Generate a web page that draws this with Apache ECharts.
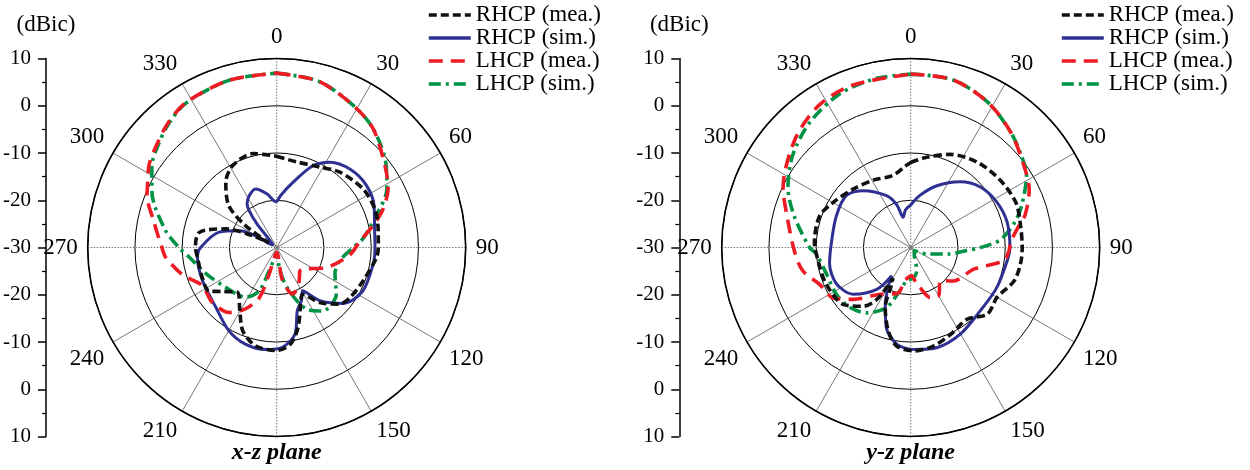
<!DOCTYPE html>
<html><head><meta charset="utf-8">
<script src="https://cdn.jsdelivr.net/npm/echarts@6/dist/echarts.min.js"></script>
<style>html,body{margin:0;padding:0;background:#fff}#c{width:1250px;height:470px}</style>
</head><body><div id="c"></div>
<script>
// ---- data: [angle (deg), gain (dBic)] ----
const seriesNames = ['RHCP (mea.)', 'RHCP (sim.)', 'LHCP (mea.)', 'LHCP (sim.)'];
const planeTitles = ['x-z plane', 'y-z plane'];

const xzRhcpMea = [[0,-10.7],[13,-11.4],[28,-10.7],[40,-9.2],[56,-7.9],[69,-7.7],[80,-8.2],[90,-8.5],[96,-8.8],[111,-10.4],[124,-11.2],[132,-12.1],[142,-15.2],[151,-18.7],[157,-17],[165,-12.5],[172,-9.3],[180,-8.2],[192,-8.7],[202,-10.9],[210,-14.4],[221,-17.4],[231,-15.2],[237,-13],[248,-13],[263,-13.1],[270,-12.8],[281,-13.3],[290,-18.5],[296,-24.3],[301,-28],[305,-22],[311,-16.6],[322,-12.5],[332,-10.3],[346,-9.5],[357,-10.5],[360,-10.7]];
const xzRhcpSim = [[0,-20.4],[5,-18.8],[14,-15.8],[24,-11],[32,-8.7],[43,-7.3],[55,-6.9],[67,-7.6],[79,-8.9],[90,-9.2],[100,-9.3],[117,-9.6],[130,-11.6],[141,-15.5],[149,-19.3],[155,-17.6],[162,-15.9],[168,-11.3],[177,-8.8],[186,-8.3],[198,-8.5],[210,-9.7],[225,-11.9],[246,-12.8],[263,-13.1],[270,-13.9],[285,-17.4],[294,-21.3],[300,-25.7],[306,-29],[312,-29],[318,-27],[320,-23.5],[323,-20.5],[326,-18.8],[332,-17.6],[340,-16.8],[350,-18.5],[356,-20],[360,-20.4]];
const xzLhcpMea = [[0,6.9],[14,6.3],[28,4.2],[39,2.4],[53,-1.3],[62,-3.3],[70,-6],[76,-8.6],[86,-12.4],[96,-14.5],[112,-18.7],[128,-22.6],[136,-23],[143,-22],[152,-20.5],[161,-19.6],[170,-23],[178,-29],[190,-28.6],[196,-24],[199,-18.8],[207,-15.4],[216,-13],[230,-12.1],[243,-12.3],[254,-9.2],[265,-6.4],[270,-5.7],[282,-3.4],[292,-0.4],[296,0.4],[303,2.2],[311,3.5],[319,5],[328,6.2],[344,6.8],[360,6.9]];
const xzLhcpSim = [[0,6.9],[14,6.3],[28,4.2],[39,2.4],[53,-1],[62,-3.6],[72,-7.8],[84,-11.6],[90,-13.8],[102,-16.4],[114,-16.5],[128,-14],[144,-13.4],[154,-15.5],[164,-20.5],[172,-25],[180,-29],[190,-28],[198,-24.9],[202,-20.1],[212,-17.6],[232,-16.3],[250,-14],[264,-11.3],[270,-9.3],[279,-6.1],[294,-1.1],[303,1.5],[311,3.2],[319,4.8],[328,6.1],[344,6.8],[360,6.9]];

const yzRhcpMea = [[0,-12],[10,-10.6],[23,-8.6],[38,-7.1],[53,-6.3],[67,-5.8],[79,-6.3],[90,-6.4],[98,-6.5],[108,-7],[120,-8.9],[131,-8.5],[142,-10.7],[155,-9.8],[167,-8.6],[178,-8.1],[188,-8.9],[195,-11.7],[203,-16.2],[207,-21],[210,-22.5],[213,-17],[219,-14],[230,-11.3],[247,-10.5],[262,-10.2],[273,-9.6],[289,-9.6],[300,-11],[315,-12.6],[331,-13.7],[346,-14.3],[357,-12.6],[360,-12]];
const yzRhcpSim = [[0,-21],[10,-18.8],[23,-15.8],[37,-12.6],[49,-10.5],[62,-9.4],[75,-8.9],[90,-9],[98,-9.4],[115,-9.9],[132,-10.1],[150,-8.9],[165,-8.1],[178,-8.4],[188,-9.3],[197,-12.3],[204,-16.8],[210,-20.5],[214,-22.8],[219,-18.6],[231,-14.3],[244,-12.5],[259,-12.5],[274,-13.2],[293,-12.9],[309,-12.5],[320,-14.3],[335,-17.9],[342,-20.5],[346,-23.4],[352,-22],[360,-21]];
const yzLhcpMea = [[0,6.7],[14,6.6],[28,4.8],[41,2.3],[54,-0.4],[64,-2.1],[74,-4.8],[80,-7.1],[87,-8.8],[92,-9.2],[98,-10.1],[109,-15.9],[128,-18.5],[138,-20.6],[150,-18.2],[159,-18.7],[167,-21.3],[171,-22.2],[178,-24],[190,-22.9],[196,-19.9],[213,-18.2],[228,-13.6],[237,-10.4],[248,-9.2],[258,-6.6],[268,-5.4],[286,-2.6],[295,-0.2],[313,3.5],[327,5.8],[340,6.5],[360,6.7]];
const yzLhcpSim = [[0,6.7],[14,6.6],[28,4.8],[41,2.3],[50,0.5],[58,-1.1],[69,-4.8],[76,-7.2],[85,-10.9],[90,-15.2],[93,-18.1],[100,-22],[112,-26.3],[130,-29],[150,-28.5],[165,-25],[175,-23.5],[187,-22.9],[194,-20.6],[202,-16.3],[214,-13.3],[226,-11.9],[238,-11.4],[253,-11.3],[266,-10],[270,-8.6],[285,-4.5],[296,-1.1],[308,1.7],[321,4],[335,5.8],[348,6.5],[360,6.7]];

const planeData = [
  [xzRhcpMea, xzRhcpSim, xzLhcpMea, xzLhcpSim],
  [yzRhcpMea, yzRhcpSim, yzLhcpMea, yzLhcpSim]
];

// ---- styles ----
const FONT = '"Liberation Serif","Times New Roman",serif';
const R = 189, CY = 247.5, CX = [276.7, 910.7], AXX = [44, 679.3], LEGX = [427, 1060];
const styles = [
  {color: '#111111', width: 3.6, type: [8, 4]},
  {color: '#2E3192', width: 3, type: 'solid'},
  {color: '#ED1C24', width: 3.6, type: [14, 8]},
  {color: '#009245', width: 3.6, type: [12, 5, 3, 5]}
];
const drawOrder = [3, 1, 2, 0];

const polar = [], angleAxis = [], radiusAxis = [], grid = [], xAxis = [], yAxis = [], legend = [], series = [], graphic = [];
for (let p = 0; p < 2; p++) {
  polar.push({center: [CX[p], CY], radius: R});
  angleAxis.push({
    polarIndex: p, type: 'value', min: 0, max: 360, interval: 30, startAngle: 90, clockwise: true,
    axisLine: {lineStyle: {color: '#000', width: 1.6}},
    axisTick: {show: false},
    axisLabel: {margin: 10, fontSize: 23, fontFamily: FONT, color: '#000',
      formatter: v => (v === 180 || v === 360) ? '' : String(v)},
    splitLine: {show: true, lineStyle: {color: ['rgba(0,0,0,0)', '#555', '#555'], width: 0.8}}
  });
  radiusAxis.push({
    polarIndex: p, type: 'value', min: -30, max: 10, interval: 10,
    axisLine: {show: false}, axisTick: {show: false}, axisLabel: {show: false},
    splitLine: {show: true, lineStyle: {color: '#000', width: 1}}
  });
  grid.push({left: AXX[p], top: 58.5, width: 10, height: 378});
  xAxis.push({gridIndex: p, type: 'value', show: false});
  yAxis.push({
    gridIndex: p, type: 'value', min: -40, max: 40, interval: 10, position: 'left',
    axisLine: {show: true, lineStyle: {color: '#000', width: 1.5}},
    axisTick: {show: true, length: 8, lineStyle: {color: '#000', width: 1.5}},
    minorTick: {show: true, splitNumber: 2, length: 4, lineStyle: {color: '#000', width: 1.2}},
    splitLine: {show: false},
    axisLabel: {margin: 15, fontSize: 21, fontFamily: FONT, color: '#000', formatter: v => String(Math.abs(v) - 30)},
    name: '(dBic)', nameLocation: 'end', nameGap: 22,
    nameTextStyle: {fontSize: 23, fontFamily: FONT, color: '#000', align: 'center'}
  });
  legend.push({
    left: LEGX[p], top: 3.5, padding: 0, orient: 'vertical', itemWidth: 42, itemHeight: 14, itemGap: 0,
    selectedMode: false, data: seriesNames,
    itemStyle: {opacity: 0},
    lineStyle: {width: 3.6},
    textStyle: {fontSize: 23, fontFamily: FONT, color: '#000', lineHeight: 23}
  });
  graphic.push({
    type: 'text', x: CX[p], y: 453,
    style: {text: planeTitles[p], textAlign: 'center', textVerticalAlign: 'middle',
      font: 'italic bold 24px "Liberation Serif", serif', fill: '#000'}
  });
  drawOrder.forEach(k => {
    const s = styles[k];
    series.push({
      type: 'line', coordinateSystem: 'polar', polarIndex: p, name: seriesNames[k],
      data: planeData[p][k].map(d => [d[1], d[0]]),
      symbol: 'none', smooth: 0.3,
      lineStyle: {color: s.color, width: s.width, type: s.type},
      itemStyle: {color: s.color}
    });
  });
}
// dotted cross (0/90/180/270) overlay polars
for (let p = 0; p < 2; p++) {
  polar.push({center: [CX[p], CY], radius: R});
  angleAxis.push({
    polarIndex: p + 2, type: 'value', min: 0, max: 360, interval: 90, startAngle: 90, clockwise: true,
    axisLine: {show: false}, axisTick: {show: false}, axisLabel: {show: false},
    splitLine: {show: true, lineStyle: {color: '#777', width: 1, type: [1.5, 1.5]}}
  });
  radiusAxis.push({polarIndex: p + 2, type: 'value', min: -30, max: 10, show: false});
}

const chart = echarts.init(document.getElementById('c'), null, {renderer: 'canvas'});
chart.setOption({animation: false, polar, angleAxis, radiusAxis, grid, xAxis, yAxis, legend, graphic, series});
</script></body></html>
